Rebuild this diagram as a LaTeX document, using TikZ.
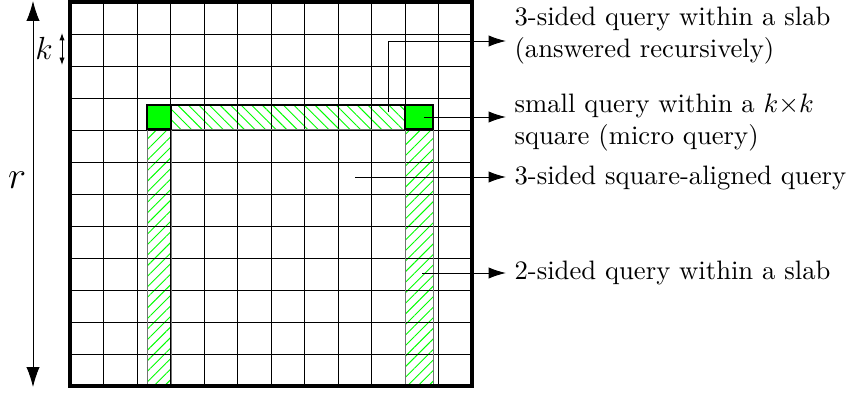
\documentclass[tikz,border=0pt]{standalone}
\usepackage{amsmath, amssymb}
\usepackage{tikz}
\usetikzlibrary{arrows.meta, patterns.meta}

\tikzset{
  arr/.style={-{Latex[length=6.5pt, width=4.2pt]}, line width=0.35pt},
  lbl/.style={anchor=west, align=left, inner sep=3pt},
  slab/.style={draw=black!55, line width=0.35pt},
  hatchA/.style={pattern={Lines[angle=-45, distance=2.8pt, line width=0.35pt]}, pattern color=green},
  hatchB/.style={pattern={Lines[angle=45, distance=2.8pt, line width=0.35pt]}, pattern color=green},
}

\begin{document}
\begin{tikzpicture}[x=0.375pt, y=-0.375pt]
  \useasboundingbox (0,0) rectangle (846,392);
  % the query region
  \fill[hatchA] (171,105) rectangle (405,129);
  \fill[hatchB] (147,129) rectangle (171,386);
  \fill[hatchB] (405,129) rectangle (433,386);
  % grid of k x k squares
  \foreach \i in {1,...,11} {
    \draw[line width=0.3pt] (70+\i*33.5, 2) -- (70+\i*33.5, 386);
    \draw[line width=0.3pt] (70, 2+\i*32) -- (472, 2+\i*32);
  }
  \draw[slab] (147,129) rectangle (171,386);
  \draw[slab] (405,129) rectangle (433,386);
  \draw[slab] (147,105) rectangle (433,129);
  \fill[green] (147,105) rectangle (171,129);
  \fill[green] (405,105) rectangle (433,129);
  \draw[line width=0.45pt] (147,105) rectangle (171,129);
  \draw[line width=0.45pt] (405,105) rectangle (433,129);
  \draw[line width=0.45pt] (147,105) -- (433,105);
  \draw[line width=1.3pt] (70,2) rectangle (472,386);
  % sizes
  \coordinate (top) at (33,1);
  \coordinate (bot) at (33,387);
  \draw[{Latex[length=7.5pt, width=5pt]}-{Latex[length=7.5pt, width=5pt]}, line width=0.35pt] (top) -- (bot);
  \node[font=\Large] (r) at (17,180) {$r$};
  \coordinate (ka) at (62,33);
  \coordinate (kb) at (62,65);
  \draw[{Latex[length=2.8pt, width=2pt]}-{Latex[length=2.8pt, width=2pt]}, line width=0.35pt] (ka) -- (kb);
  \node[font=\large] (k) at (44,48) {$k$};
  % labels
  \node[lbl] (t1) at (506,36) {3-sided query within a slab\\(answered recursively)};
  \node[lbl] (t2) at (506,123) {small query within a $k{\times}k$\\square (micro query)};
  \node[lbl] (t3) at (506,178) {3-sided square-aligned query};
  \node[lbl] (t4) at (506,273) {2-sided query within a slab};
  \coordinate (s1) at (388,112);
  \coordinate (b1) at (388,41);
  \coordinate (s2) at (424,117);
  \coordinate (s3) at (355,177);
  \coordinate (s4) at (422,273);
  \draw[arr] (s1) -- (b1) -- (b1 -| t1.west);
  \draw[arr] (s2) -- (s2 -| t2.west);
  \draw[arr] (s3) -- (s3 -| t3.west);
  \draw[arr] (s4) -- (s4 -| t4.west);
\end{tikzpicture}
\end{document}
